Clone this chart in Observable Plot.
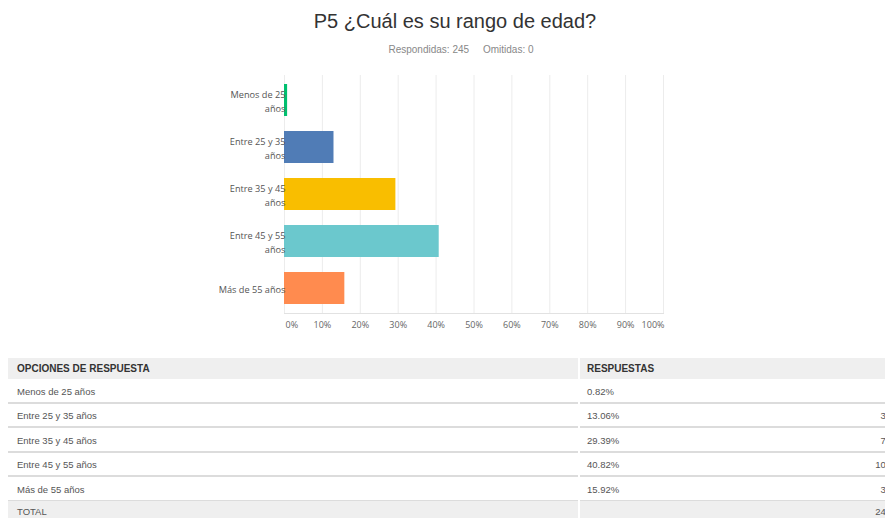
<!DOCTYPE html>
<html><head><meta charset="utf-8">
<script src="https://cdn.jsdelivr.net/npm/d3@7"></script>
<script src="https://cdn.jsdelivr.net/npm/@observablehq/plot@0.6"></script>
<style>
html,body{margin:0;padding:0}
body{width:885px;height:518px;overflow:hidden;background:#fff;position:relative;font-family:"Liberation Sans",Arial,sans-serif}
#title{position:absolute;top:9px;left:0;width:910px;text-align:center;font-size:20px;color:#333;line-height:24px}
#sub{position:absolute;top:44px;left:0;width:922px;text-align:center;font-size:10px;color:#888;line-height:12px;white-space:pre}
#chart{position:absolute;top:70px;left:0}
#table{position:absolute;top:358px;left:0;width:905px}
.row{position:absolute;left:0;width:905px}
.cell{position:absolute;top:0;bottom:0;box-sizing:border-box;display:flex;align-items:center;white-space:nowrap}
.c1{left:8px;width:570px;padding-left:9px}
.c2{left:580px;width:320px;padding-left:7px}
.cnt{position:absolute;right:9px}
.head .cell{background:#efefef;font-weight:bold;font-size:10px;color:#333}
.body .cell{border-bottom:2px solid #dcdcdc;font-size:9.5px;color:#555;padding-top:2px}
.tot .cell{background:#efefef;font-size:9.5px;color:#555}
</style></head>
<body>
<div id="title"></div>
<div id="sub"></div>
<div id="chart"></div>
<div id="table"></div>
<script>
const questionTitle = "P5 ¿Cuál es su rango de edad?";
const answered = 245;
const skipped = 0;
const categories = ["Menos de 25 años","Entre 25 y 35 años","Entre 35 y 45 años","Entre 45 y 55 años","Más de 55 años"];
const axisLabels = ["Menos de 25\naños","Entre 25 y 35\naños","Entre 35 y 45\naños","Entre 45 y 55\naños","Más de 55 años"];
const percents = [0.82, 13.06, 29.39, 40.82, 15.92];
const counts = [2, 32, 72, 100, 39];
const colors = ["#00bf6f","#507cb6","#f9be00","#6bc8cd","#ff8b4f"];
const xTicks = [0,10,20,30,40,50,60,70,80,90,100];
const headers = ["OPCIONES DE RESPUESTA","RESPUESTAS"];
const totalLabel = "TOTAL";

document.getElementById("title").textContent = questionTitle;
document.getElementById("sub").textContent = "Respondidas: " + answered + "     Omitidas: " + skipped;

const data = categories.map((c,i)=>({cat:c,label:axisLabels[i],pct:percents[i]}));
const tickFmt = d => d + "%";

const chart = Plot.plot({
  width: 885, height: 268,
  marginLeft: 284, marginRight: 222, marginTop: 5, marginBottom: 25,
  style: {fontFamily: "'Open Sans', sans-serif", fontSize: "9px", background: "transparent", overflow: "visible"},
  x: {domain: [0,100], axis: null},
  y: {domain: categories, paddingInner: 0.326, paddingOuter: 0.17, axis: null},
  color: {domain: categories, range: colors},
  marks: [
    Plot.ruleX(xTicks, {x: d=>d, stroke: "#ececec", strokeWidth: 1}),
    Plot.frame({anchor: "bottom", stroke: "#e2e2e2"}),
    Plot.barX(data, {x: "pct", y: "cat", fill: "cat"}),
    Plot.text(data, {y: "cat", text: "label", frameAnchor: "left", textAnchor: "end", dx: 1, lineHeight: 1.55, fill: "#555", fontSize: 9.2}),
    Plot.text(xTicks.filter(d => d > 0 && d < 100), {x: d=>d, text: tickFmt, frameAnchor: "bottom", dy: 14, fill: "#666", fontSize: 9}),
    Plot.text(xTicks.filter(d => d === 0), {x: d=>d, text: tickFmt, frameAnchor: "bottom", dy: 14, textAnchor: "start", dx: 1, fill: "#666", fontSize: 9}),
    Plot.text(xTicks.filter(d => d === 100), {x: d=>d, text: tickFmt, frameAnchor: "bottom", dy: 14, textAnchor: "end", dx: 1, fill: "#666", fontSize: 9})
  ]
});
document.getElementById("chart").appendChild(chart);

// table
const table = document.getElementById("table");
function addRow(cls, top, height, a, b, c) {
  const r = document.createElement("div");
  r.className = "row " + cls;
  r.style.top = top + "px";
  r.style.height = height + "px";
  const c1 = document.createElement("div"); c1.className = "cell c1"; c1.textContent = a;
  const c2 = document.createElement("div"); c2.className = "cell c2"; c2.textContent = b;
  if (c !== undefined) {
    const s = document.createElement("span"); s.className = "cnt"; s.textContent = c;
    c2.appendChild(s);
  }
  r.appendChild(c1); r.appendChild(c2);
  table.appendChild(r);
}
addRow("head", 0, 21, headers[0], headers[1]);
const rowH = 24.5;
categories.forEach((c,i) => {
  addRow("body", 21 + i*rowH, rowH, c, percents[i].toFixed(2) + "%", counts[i]);
});
addRow("tot", 21 + categories.length*rowH - 0.5, 20, totalLabel, "", d3.sum(counts));
</script>
</body></html>
